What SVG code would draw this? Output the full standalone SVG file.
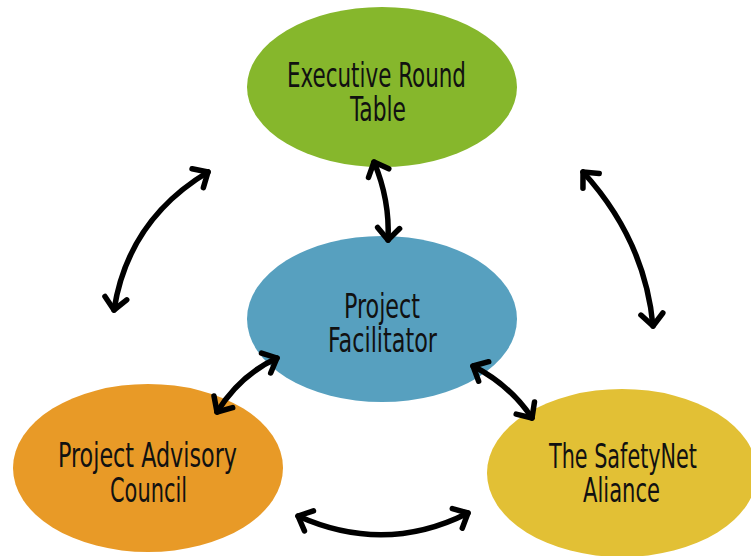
<svg xmlns="http://www.w3.org/2000/svg" width="751" height="556" viewBox="0 0 751 556">
<style>
.lbl{font-family:"DejaVu Sans Condensed","Liberation Sans",sans-serif;font-size:34px;fill:#111}
.con{fill:none;stroke:#000;stroke-width:5.5;stroke-linecap:round;marker-start:url(#ah);marker-end:url(#ah)}
</style>
<defs>
<marker id="ah" markerUnits="userSpaceOnUse" markerWidth="30" markerHeight="30" refX="0" refY="0" viewBox="-15 -15 30 30" orient="auto-start-reverse" overflow="visible">
<path d="M -12 -11 L 0 0 L -12 11" fill="none" stroke="#000" stroke-width="5.5" stroke-linecap="round" stroke-linejoin="round"/>
</marker>
</defs>
<rect width="751" height="556" fill="#fff"/>
<g id="n-executive">
<ellipse cx="382" cy="87" rx="135" ry="80" fill="#86b72c"/>
<text class="lbl" x="287" y="87" textLength="179" lengthAdjust="spacingAndGlyphs">Executive Round</text>
<text class="lbl" x="350" y="121" textLength="56" lengthAdjust="spacingAndGlyphs">Table</text>
</g>
<g id="n-facilitator">
<ellipse cx="382" cy="319" rx="135" ry="83" fill="#57a0bf"/>
<text class="lbl" x="344" y="318" textLength="76" lengthAdjust="spacingAndGlyphs">Project</text>
<text class="lbl" x="328" y="352" textLength="109" lengthAdjust="spacingAndGlyphs">Facilitator</text>
</g>
<g id="n-advisory">
<ellipse cx="148" cy="468" rx="135" ry="84" fill="#e89a27"/>
<text class="lbl" x="58" y="467" textLength="179" lengthAdjust="spacingAndGlyphs">Project Advisory</text>
<text class="lbl" x="110" y="502" textLength="77" lengthAdjust="spacingAndGlyphs">Council</text>
</g>
<g id="n-safetynet">
<ellipse cx="622" cy="473" rx="135" ry="84" fill="#e2c035"/>
<text class="lbl" x="549" y="468" textLength="148" lengthAdjust="spacingAndGlyphs">The SafetyNet</text>
<text class="lbl" x="583" y="502" textLength="77" lengthAdjust="spacingAndGlyphs">Aliance</text>
</g>
<g id="connectors">
<path class="con" d="M 208 172 Q 128 220 114 310"/>
<path class="con" d="M 583 172 Q 645 240 653 326"/>
<path class="con" d="M 374 162 Q 390 200 388 240"/>
<path class="con" d="M 277 358 Q 240 375 217 412"/>
<path class="con" d="M 473 366 Q 510 385 532 418"/>
<path class="con" d="M 298 516 Q 385 555 468 513"/>
</g>
</svg>
